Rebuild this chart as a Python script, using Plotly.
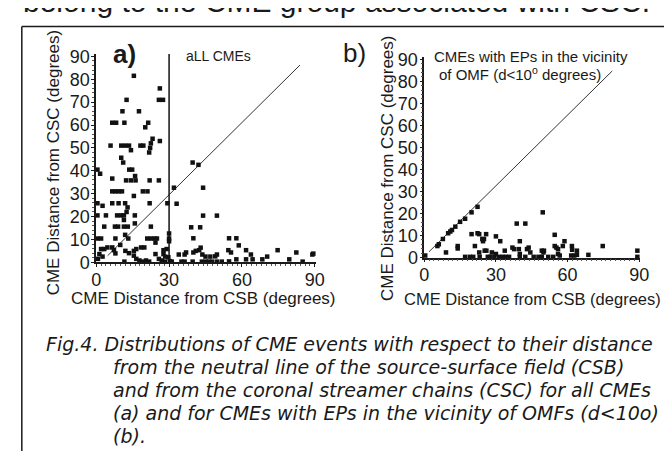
import plotly.graph_objects as go

# ---------------- data ----------------
# Panel a: all CMEs  (x = distance from CSB, y = distance from CSC)
a_x = [15.5, 26.2, 25.8, 27.5, 12.5, 10.8, 17.6,
       6.6, 8.2, 11.6, 21.4, 20.2,
       23.2, 22.5, 26.2,
       5.9, 10.3, 11.9, 13.5, 18.2, 19.4, 22.2,
       14.3, 21.8, 10.3, 11.1,
       13.6, 14.8, 0.5, 1.6, 6.6, 16.0,
       12.3, 14.3, 16.2, 22.0, 25.8,
       6.6, 7.9, 9.2, 10.6, 15.5, 19.2, 21.1,
       0.5, 2.6, 6.6, 9.2, 11.9, 12.9, 22.0, 29.3,
       0.5, 4.0, 8.6, 10.3, 11.4, 12.5, 15.9, 11.4,
       3.3, 7.7, 9.0, 11.4, 13.0, 15.9, 22.5,
       0.5, 2.0, 7.9, 11.9, 13.2, 21.0, 22.5, 24.0, 25.0, 30.0,
       2.0, 3.3, 4.6, 6.6, 7.3, 1.3, 0.7, 2.6, 7.9, 9.9, 11.6, 12.0, 13.5,
       15.5, 16.5, 15.5, 16.5, 17.8, 19.2, 20.5, 21.8, 18.5, 19.8, 24.4,
       24.4, 25.8, 27.7, 29.0, 27.0, 28.4, 29.7, 30.4,
       39.7, 42.1, 32.0, 44.0, 33.1, 44.0, 49.7, 39.1, 42.8, 30.0, 30.0,
       40.0, 54.7, 57.7, 58.7, 61.7, 63.7, 70.4, 74.7, 82.4, 89.0, 79.5,
       85.0, 68.4, 61.7, 64.4, 54.4, 55.5, 54.7, 57.7, 49.7, 49.0, 43.0,
       42.4, 43.7, 45.0, 47.0, 40.0, 41.0, 37.0, 36.4, 34.0, 27.7, 28.4,
       27.1, 31.1, 35.1, 36.4, 39.7, 43.5, 45.1, 46.4, 47.7, 49.7, 51.7,
       89.4]
a_y = [81.5, 76.0, 71.0, 71.0, 71.0, 66.0, 66.0,
       61.0, 61.0, 61.0, 61.0, 59.0,
       54.0, 52.0, 53.0,
       51.0, 51.0, 51.0, 51.0, 51.0, 51.0, 50.0,
       49.0, 48.0, 45.7, 43.6,
       40.5, 40.5, 40.5, 38.7, 36.6, 37.7,
       35.8, 35.8, 35.8, 35.8, 35.8,
       31.0, 31.0, 31.0, 31.0, 29.0, 31.0, 31.0,
       25.8, 24.7, 25.8, 25.8, 25.8, 24.0, 25.8, 25.8,
       20.5, 20.5, 20.5, 20.5, 20.5, 22.0, 20.5, 18.5,
       15.6, 15.6, 15.6, 15.6, 15.6, 17.0, 15.6,
       10.4, 10.4, 10.4, 12.0, 10.4, 10.4, 10.4, 10.4, 10.4, 10.4,
       5.8, 5.8, 6.5, 6.5, 5.3, 3.6, 1.5, 2.5, 3.9, 7.6, 0.3, 5.0, 4.0,
       5.0, 5.8, 2.9, 1.5, 0.8, 0.3, 0.8, 0.3, 6.5, 6.5, 8.6,
       3.6, 1.5, 3.6, 5.8, 0.8, 0.3, 2.2, 0.5,
       43.6, 42.6, 32.6, 32.6, 25.6, 20.4, 20.4, 15.3, 15.3, 12.6, 9.2,
       10.5, 10.5, 10.5, 7.4, 5.3, 3.4, 2.5, 5.3, 4.3, 3.4, 1.3,
       0.3, 1.3, 1.3, 1.3, 5.3, 4.3, 0.4, 1.3, 3.4, 2.6, 6.4,
       5.3, 3.4, 2.5, 2.5, 4.3, 5.0, 4.3, 3.4, 3.4, 5.3, 2.5,
       0.3, 0.3, 0.3, 0.3, 0.3, 0.3, 0.3, 0.3, 0.3, 0.3, 0.3,
       3.8]

# Panel b: CMEs with EPs in the vicinity of OMF
b_x = [5.5, 6.1, 7.8, 10.0, 10.9, 11.6, 13.0, 15.0, 17.1, 19.8, 22.3,
       0.4, 9.1, 14.0, 14.0, 19.8, 22.3, 23.0, 24.3, 25.0, 24.6, 25.9,
       21.2, 25.3, 26.0, 30.0, 31.8, 28.3, 23.0,
       17.1, 19.1, 20.5, 23.2, 26.6, 27.7, 29.4, 31.4, 32.8, 34.1, 35.5,
       42.3, 45.8, 47.8, 49.2, 51.9, 54.0,
       30.0, 33.7, 36.9, 37.6, 38.7, 42.3, 40.0, 39.6, 40.0, 40.0,
       43.0, 43.7, 44.4, 49.6, 49.2, 50.1, 49.9, 54.6, 54.6, 55.3, 56.0,
       56.0, 56.7, 58.7, 58.0, 61.8, 61.9, 61.5, 62.8, 63.9, 63.9, 68.7,
       74.7, 89.2, 89.2]
b_y = [5.2, 6.0, 8.4, 11.0, 11.8, 12.5, 14.0, 16.2, 17.6, 20.5, 23.0,
       0.9, 2.3, 5.2, 4.1, 10.6, 11.0, 10.6, 8.4, 8.4, 7.4, 10.6,
       5.2, 3.1, 3.1, 9.6, 7.4, 2.3, 2.3,
       0.3, 0.3, 0.3, 0.3, 0.3, 0.3, 0.3, 0.3, 0.3, 0.3, 0.3,
       0.3, 0.3, 0.3, 0.3, 0.3, 0.3,
       1.6, 3.1, 4.5, 3.8, 15.4, 15.4, 7.4, 3.8, 1.6, 0.3,
       3.8, 4.5, 2.3, 20.5, 3.1, 3.1, 2.3, 10.3, 5.2, 4.5, 3.8,
       1.6, 0.9, 7.4, 5.2, 5.2, 3.5, 0.9, 0.9, 3.1, 1.2, 1.2,
       5.2, 3.1, 0.3]

# reference lines
a_diag_x = [4.7, 83.9]
a_diag_y = [2.9, 86.2]
a_vert_x = [30, 30]
a_vert_y = [0, 91.3]
b_diag_x = [2.0, 78.7]
b_diag_y = [2.6, 84.7]

x_ticks = [0, 30, 60, 90]
y_ticks = [0, 10, 20, 30, 40, 50, 60, 70, 80, 90]

caption_lines = [
    "Fig.4. Distributions of CME events with respect to their distance",
    "from the neutral line of the source-surface field (CSB)",
    "and from the coronal streamer chains (CSC) for all CMEs",
    "(a) and for CMEs with EPs in the vicinity of OMFs (d&lt;10o)",
    "(b).",
]

# ---------------- figure ----------------
W, H = 672, 451
FONT = "Liberation Sans, Arial, sans-serif"
CAPFONT = "DejaVu Sans, sans-serif"
INK = "#1a1a1a"

def px(xp):
    return xp / W

def py(yp):
    return 1 - yp / H

fig = go.Figure()

mk = dict(symbol="square", size=4.5, color="#111111", line=dict(width=0))

fig.add_trace(go.Scatter(x=a_diag_x, y=a_diag_y, mode="lines",
                         line=dict(color="#333333", width=1),
                         xaxis="x", yaxis="y", hoverinfo="skip"))
fig.add_trace(go.Scatter(x=a_vert_x, y=a_vert_y, mode="lines",
                         line=dict(color="#111111", width=1.5),
                         xaxis="x", yaxis="y", cliponaxis=False, hoverinfo="skip"))
fig.add_trace(go.Scatter(x=a_x, y=a_y, mode="markers", marker=mk,
                         xaxis="x", yaxis="y", cliponaxis=False))
fig.add_trace(go.Scatter(x=b_diag_x, y=b_diag_y, mode="lines",
                         line=dict(color="#333333", width=1),
                         xaxis="x2", yaxis="y2", hoverinfo="skip"))
fig.add_trace(go.Scatter(x=b_x, y=b_y, mode="markers", marker=mk,
                         xaxis="x2", yaxis="y2", cliponaxis=False))

axis_common = dict(
    showline=True, linecolor=INK, linewidth=1.5, showgrid=False, zeroline=False,
    ticks="outside", ticklen=3, tickwidth=1, tickcolor=INK,
    tickfont=dict(family=FONT, size=18, color=INK),
    minor=dict(ticks="outside", ticklen=2, tickcolor="#555555", dtick=2),
    fixedrange=True,
)

fig.update_layout(
    width=W, height=H,
    margin=dict(l=0, r=0, t=0, b=0),
    paper_bgcolor="white", plot_bgcolor="white",
    showlegend=False,
    xaxis=dict(domain=[px(85), px(85 + 90.5 * 2.48)], range=[0, 90.5],
               tickvals=x_ticks, anchor="y", ticklabelstandoff=-3, **axis_common),
    yaxis=dict(domain=[py(257), py(257 - 91 * 2.378)], range=[0, 91],
               tickvals=y_ticks, anchor="x", ticklabelstandoff=-2, **axis_common),
    xaxis2=dict(domain=[px(420), px(420 + 90.5 * 2.44)], range=[0, 90.5],
                tickvals=x_ticks, anchor="y2", ticklabelstandoff=-3, **axis_common),
    yaxis2=dict(domain=[py(252), py(252 - 91 * 2.289)], range=[0, 91],
                tickvals=y_ticks, anchor="x2", ticklabelstandoff=-2, **axis_common),
)

ann = []

def text(x, y, s, size, xanchor="center", yanchor="middle", angle=0, color=INK, family=FONT):
    ann.append(dict(x=px(x), y=py(y), xref="paper", yref="paper", text=s,
                    showarrow=False, xanchor=xanchor, yanchor=yanchor,
                    textangle=angle, font=dict(family=family, size=size, color=color)))

# clipped line of body text at very top
text(8, -14, "belong to the CME group associated with CSC.", 30, xanchor="left")

# panel labels
text(114, 41, "<b>a)</b>", 26)
text(349, 40, "b)", 26)
text(175, 43, "aLL CMEs", 14, xanchor="left")
text(428, 43, "CMEs with EPs in the vicinity", 15, xanchor="left")
text(433, 61, "of OMF (d&lt;10<sup>o</sup> degrees)", 15, xanchor="left")

# axis titles
text(195, 295, "CME Distance from CSB (degrees)", 17)
text(531, 295, "CME Distance from CSB (degrees)", 16.5)
text(41, 154, "CME Distance from CSC (degrees)", 17, angle=-90)
text(383, 160, "CME Distance from CSC (degrees)", 17, angle=-90)

# caption
cap_y = [342, 366, 390, 414, 437]
cap_x = [32, 100, 100, 100, 100]
for s, xx, yy in zip(caption_lines, cap_x, cap_y):
    text(xx, yy, "<i>" + s + "</i>", 19, xanchor="left", family=CAPFONT)

fig.update_layout(annotations=ann)

# outer frame (left and top edges visible)
fig.add_shape(type="line", xref="paper", yref="paper",
              x0=px(9), x1=px(9), y0=py(12), y1=-0.1,
              line=dict(color=INK, width=1.5))
fig.add_shape(type="line", xref="paper", yref="paper",
              x0=px(9), x1=1.1, y0=py(12), y1=py(12),
              line=dict(color=INK, width=1.5))

fig.write_html("out.html")
